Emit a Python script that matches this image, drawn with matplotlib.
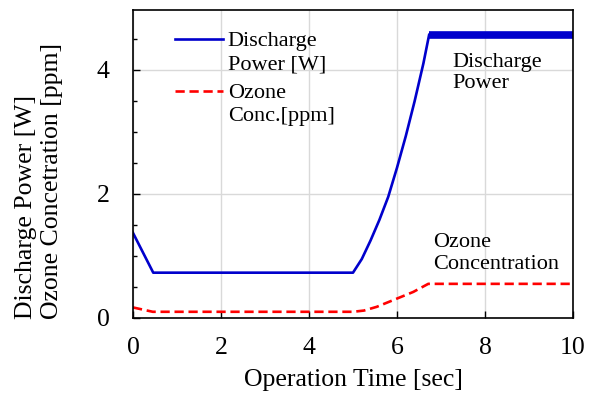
import numpy as np
import matplotlib.pyplot as plt
from matplotlib.ticker import MultipleLocator
from matplotlib.legend_handler import HandlerLine2D

plt.rcParams['font.family'] = ['Liberation Serif', 'DejaVu Serif']

# ---- data ----
power_t = [0.0, 0.46, 5.0, 5.2, 5.4, 5.6, 5.8, 6.0, 6.2, 6.4, 6.6, 6.73]
power_w = [1.37, 0.73, 0.73, 0.95, 1.25, 1.58, 1.95, 2.42, 2.93, 3.49, 4.10, 4.56]

# noisy plateau drawn as a thick band
plateau_t = [6.73, 10.0]
plateau_w = [4.56, 4.56]

ozone_t = [0.0, 0.45, 5.0, 5.25, 5.54, 5.99, 6.37, 6.71, 10.0]
ozone_ppm = [0.17, 0.10, 0.10, 0.12, 0.18, 0.31, 0.42, 0.55, 0.55]


class FirstLineHandler(HandlerLine2D):
    # put the legend line next to the first text line, not between the two
    def create_artists(self, *args, **kwargs):
        artists = super().create_artists(*args, **kwargs)
        for a in artists:
            a.set_ydata(np.asarray(a.get_ydata()) + 9.5)
        return artists


# ---- figure ----
W, H = 598, 394
fig = plt.figure(figsize=(W / 100, H / 100), dpi=100)
ax = fig.add_axes([133 / W, 1 - 318 / H, 440 / W, 308 / H])

l1, = ax.plot(power_t, power_w, color='#0000cc', lw=1.9,
              label='Discharge\nPower [W]')
ax.plot(plateau_t, plateau_w, color='#0000cc', lw=5.5, solid_capstyle='butt')
l2, = ax.plot(ozone_t, ozone_ppm, color='#ff0000', lw=1.9, ls=(0, (3.5, 1.8)),
              label='Ozone\nConc.[ppm]')

ax.set_xlim(0, 10)
ax.set_ylim(0, 4.96)
ax.xaxis.set_major_locator(MultipleLocator(2))
ax.yaxis.set_major_locator(MultipleLocator(2))
ax.yaxis.set_minor_locator(MultipleLocator(0.5))
ax.tick_params(which='both', direction='in', labelsize=18.5)
ax.tick_params(axis='x', pad=14)
ax.tick_params(axis='y', pad=17)
ax.tick_params(which='major', length=5, width=1)
ax.tick_params(which='minor', length=3, width=1)
ax.grid(True, which='major', color='#d9d9d9', lw=1)
ax.set_axisbelow(True)
for s in ax.spines.values():
    s.set_linewidth(1.2)

ax.set_xlabel('Operation Time [sec]', fontsize=18.5, labelpad=7)
fig.text(39 / W, 1 - 319 / H, 'Discharge Power [W]\nOzone Concetration [ppm]',
         fontsize=18.5, rotation=90, ha='center', va='bottom',
         multialignment='left', linespacing=1.22)

ax.text(7.25, 4.26, 'Discharge\nPower', fontsize=16, linespacing=1.1, va='top')
ax.text(6.83, 1.37, 'Ozone\nConcentration', fontsize=16, linespacing=1.2,
        va='top')

leg = ax.legend(handles=[l1, l2],
                handler_map={l1: FirstLineHandler(), l2: FirstLineHandler()},
                loc='upper left', bbox_to_anchor=(42 / 440, 1 - 22 / 308),
                frameon=False, fontsize=16, handlelength=2.15,
                handletextpad=0.22, labelspacing=0.45, borderpad=0,
                borderaxespad=0)
for t in leg.get_texts():
    t.set_linespacing(1.3)

fig.savefig('out.png', dpi=100)
